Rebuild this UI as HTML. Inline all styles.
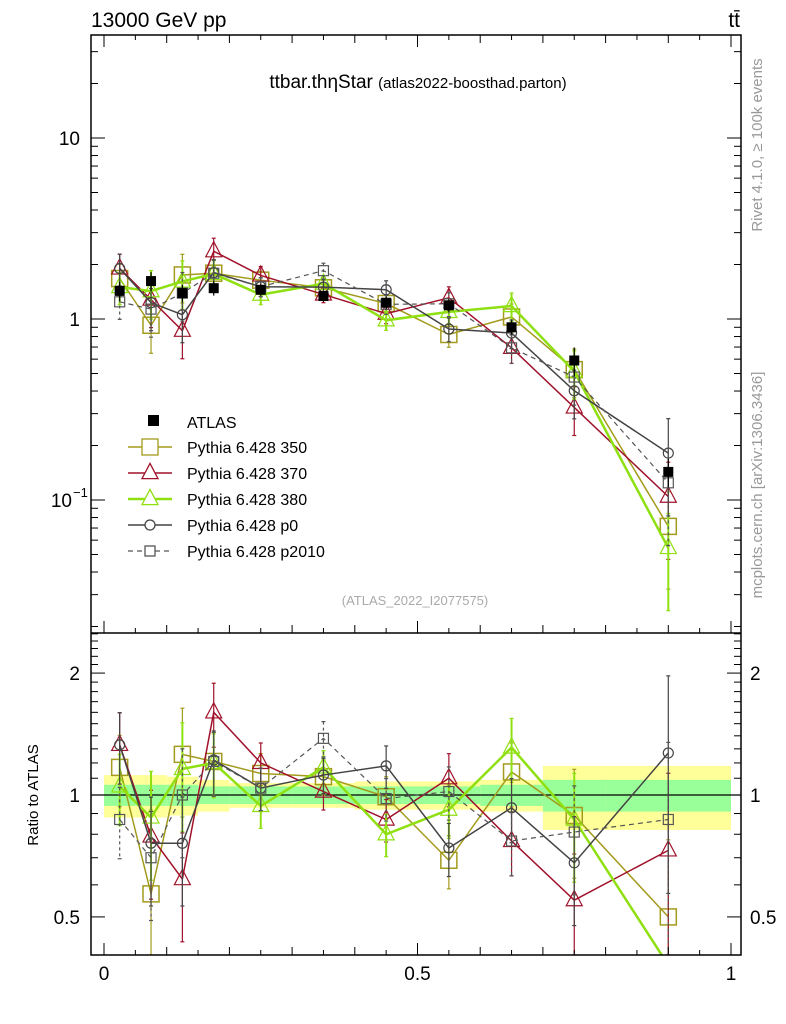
<!DOCTYPE html>
<html><head><meta charset="utf-8"><style>
html,body{margin:0;background:#fff;overflow:hidden;width:786px;height:1024px;}
svg{display:block;font-family:"Liberation Sans",sans-serif;}
</style></head><body>
<svg id="c" width="786" height="1024" viewBox="0 0 786 1024"></svg>
<script>
const edges=[0,0.05,0.1,0.15,0.2,0.3,0.4,0.5,0.6,0.7,0.8,1.0];
const atlas=[1.43,1.62,1.39,1.48,1.45,1.34,1.23,1.19,0.90,0.59,0.143];
const atlasStat=[0.06,0.06,0.06,0.05,0.05,0.05,0.05,0.05,0.06,0.09,0.09];
const atlasTot=[0.12,0.12,0.11,0.09,0.07,0.07,0.08,0.08,0.09,0.18,0.18];
const r350=[1.17,0.57,1.26,1.21,1.13,1.11,0.99,0.69,1.14,0.89,0.50];
const r370=[1.33,0.79,0.62,1.60,1.20,1.02,0.87,1.10,0.77,0.55,0.73];
const r380=[1.05,0.88,1.16,1.20,0.94,1.17,0.80,0.92,1.31,0.87,0.38];
const rp0=[1.33,0.76,0.76,1.22,1.04,1.12,1.18,0.74,0.93,0.68,1.27];
const rp2010=[0.87,0.70,1.00,1.21,1.04,1.38,0.98,1.02,0.77,0.81,0.87];
const relErr=[0.2,0.3,0.3,0.18,0.12,0.1,0.12,0.15,0.18,0.3,0.55];
const series=[
 {name:"Pythia 6.428 350",r:r350,col:"#a39b1d",m:"sq",w:1.5,dash:"",size:8},
 {name:"Pythia 6.428 370",r:r370,col:"#a0122a",m:"tri",w:1.5,dash:"",size:8},
 {name:"Pythia 6.428 380",r:r380,col:"#8fe010",m:"tri",w:2.5,dash:"",size:8},
 {name:"Pythia 6.428 p0",r:rp0,col:"#444",m:"circ",w:1.5,dash:"",size:5},
 {name:"Pythia 6.428 p2010",r:rp2010,col:"#555",m:"sq",w:1.2,dash:"5,4",size:5}];
const X0=91,X1=741,T=35,M=633,B=955;
const xs=v=>104+v*627;
const ym=v=>Math.min(M,Math.max(T,319-181*Math.log10(v)));
const yr=v=>Math.min(B,Math.max(M,795-405*Math.log10(v)));
const yrRaw=v=>795-405*Math.log10(v);
const NS="http://www.w3.org/2000/svg";
const svg=document.getElementById('c');
function el(t,a,p){const e=document.createElementNS(NS,t);for(const k in a)e.setAttribute(k,a[k]);(p||svg).appendChild(e);return e;}
function txt(s,x,y,a,p){const e=el('text',Object.assign({x:x,y:y},a),p);e.textContent=s;return e;}
const clipM=el('clipPath',{id:'cm'});el('rect',{x:X0,y:T,width:X1-X0,height:M-T},clipM);
const clipR=el('clipPath',{id:'cr'});el('rect',{x:X0,y:M,width:X1-X0,height:B-M},clipR);
const gb=el('g',{'clip-path':'url(#cr)'});

for(let i=0;i<atlas.length;i++){
 const a=xs(edges[i]),b=xs(edges[i+1]);
 const r1=el('rect',{x:a,y:yr(1+atlasTot[i]),width:b-a,height:yr(1-atlasTot[i])-yr(1+atlasTot[i]),fill:'#ffff99'},gb);
 
 const r2=el('rect',{x:a,y:yr(1+atlasStat[i]),width:b-a,height:yr(1-atlasStat[i])-yr(1+atlasStat[i]),fill:'#99ff99'},gb);
 
}
el('line',{x1:X0,x2:X1,y1:yr(1),y2:yr(1),stroke:'#000','stroke-width':1.2});
function marker(g,type,x,y,s,col,fill,w){
 if(type==='sq')return el('rect',{x:x-s,y:y-s,width:2*s,height:2*s,fill:fill,stroke:col,'stroke-width':w},g);
 if(type==='circ')return el('circle',{cx:x,cy:y,r:s,fill:fill,stroke:col,'stroke-width':w},g);
 return el('polygon',{points:`${x},${y-s*1.2} ${x-s},${y+s*0.7} ${x+s},${y+s*0.7}`,fill:fill,stroke:col,'stroke-width':w},g);
}
const cx=i=>xs((edges[i]+edges[i+1])/2);
series.forEach((s,k)=>{
 [['main','cm',i=>atlas[i]*s.r[i],ym,ym],['ratio','cr',i=>s.r[i],yr,yrRaw]].forEach(([pn,cl,val,yf,yline])=>{
  const g=el('g',{'clip-path':`url(#${cl})`});
  
  let pts=[];
  for(let i=0;i<s.r.length;i++){
   const x=cx(i),y=yline(val(i));
   if(y>B&&i>0){const xp=cx(i-1),yp=yline(val(i-1));const t=(B+5-yp)/(y-yp);pts.push((xp+t*(x-xp))+','+(B+5));}
   else pts.push(x+','+y);
  }
  el('polyline',{points:pts.join(' '),fill:'none',stroke:s.col,'stroke-width':s.w,'stroke-dasharray':s.dash},g);
  s.r.forEach((_,i)=>{
   const v=val(i),e=relErr[i];
   if(yline(v)>B)return;
   el('line',{x1:cx(i),x2:cx(i),y1:yf(v*(1+e)),y2:yf(v*(1-e)),stroke:s.col,'stroke-width':s.w>2?2:1.2,'stroke-dasharray':s.dash?'3,3':''},g);
   el('line',{x1:cx(i)-2,x2:cx(i)+2,y1:yf(v*(1+e)),y2:yf(v*(1+e)),stroke:s.col,'stroke-width':1.2},g);
   el('line',{x1:cx(i)-2,x2:cx(i)+2,y1:yf(v*(1-e)),y2:yf(v*(1-e)),stroke:s.col,'stroke-width':1.2},g);
   const mk=marker(g,s.m,cx(i),yf(v),s.size,s.col,'none',s.m==='sq'&&s.size>6?1.5:1.2);
   
  });
 });
});
const ga=el('g',{'clip-path':'url(#cm)'});

atlas.forEach((v,i)=>{
 el('line',{x1:cx(i),x2:cx(i),y1:ym(v*(1+atlasTot[i])),y2:ym(v*(1-atlasTot[i])),stroke:'#000','stroke-width':1.2},ga);
 const p=el('rect',{x:cx(i)-5,y:ym(v)-5,width:10,height:10,fill:'#000'},ga);
 
});
el('rect',{x:X0,y:T,width:X1-X0,height:B-T,fill:'none',stroke:'#000','stroke-width':1.5});
el('line',{x1:X0,x2:X1,y1:M,y2:M,stroke:'#000','stroke-width':1.5});
const gx=el('g',{stroke:'#000','stroke-width':1});

for(let k=0;k<=20;k++){const v=k*0.05,x=xs(v);const L=k%10===0?12:(k%2===0?8:5);
 [T,M,B].forEach((y0,j)=>{ if(j===0){el('line',{x1:x,x2:x,y1:T,y2:T+L},gx);} else {el('line',{x1:x,x2:x,y1:y0,y2:y0-L},gx);} });}
[['0',0],['0.5',0.5],['1',1]].forEach(([s,v])=>txt(s,xs(v),980,{'font-size':19,'text-anchor':'middle'}));
const gy=el('g',{stroke:'#000','stroke-width':1});

for(let d=-2;d<=1;d++)for(let m=1;m<=9;m++){const v=m*Math.pow(10,d),y=319-181*Math.log10(v);if(y<T||y>M)continue;const L=m===1?14:7;
 el('line',{x1:X0,x2:X0+L,y1:y,y2:y},gy);el('line',{x1:X1,x2:X1-L,y1:y,y2:y},gy);}
txt('10',80,145,{'font-size':19,'text-anchor':'end'});
txt('1',80,326,{'font-size':19,'text-anchor':'end'});
txt('10',72,507,{'font-size':19,'text-anchor':'end'});
txt('−1',73,497,{'font-size':13,'text-anchor':'start'});
const gr=el('g',{stroke:'#000','stroke-width':1});

for(let k=4;k<=25;k++){const v=k/10,y=yrRaw(v);if(y<M||y>B)continue;const L=(k===5||k===10||k===20)?14:7;
 el('line',{x1:X0,x2:X0+L,y1:y,y2:y},gr);el('line',{x1:X1,x2:X1-L,y1:y,y2:y},gr);}
[['2',2],['1',1],['0.5',0.5]].forEach(([s,v])=>{txt(s,80,yrRaw(v)+7,{'font-size':19,'text-anchor':'end'});txt(s,750,yrRaw(v)+7,{'font-size':19});});
txt('Ratio to ATLAS',38,795,{'font-size':15,'text-anchor':'middle',transform:'rotate(-90 38 795)'});
txt('13000 GeV pp',91,27,{'font-size':21});
txt('tt̄',740,27,{'font-size':21,'text-anchor':'end'});
const ti=txt('',418,88,{'font-size':19,'text-anchor':'middle'});
ti.innerHTML='ttbar.thηStar <tspan font-size="15">(atlas2022-boosthad.parton)</tspan>';
txt('(ATLAS_2022_I2077575)',415,605,{'font-size':13,fill:'#aaa','text-anchor':'middle'});
txt('Rivet 4.1.0, ≥ 100k events',762,145,{'font-size':15,fill:'#999','text-anchor':'middle',transform:'rotate(-90 762 145)'});
txt('mcplots.cern.ch [arXiv:1306.3436]',762,485,{'font-size':15,fill:'#999','text-anchor':'middle',transform:'rotate(-90 762 485)'});
const gl=el('g',{});
el('rect',{x:148,y:415,width:11,height:11,fill:'#000'},gl);txt('ATLAS',187,428,{'font-size':16},gl);
series.forEach((s,k)=>{const y=447+26*k;
 const e=el('g',{},gl);
 el('line',{x1:128,x2:172,y1:y,y2:y,stroke:s.col,'stroke-width':s.w,'stroke-dasharray':s.dash},e);
 marker(e,s.m,150,y,s.size,s.col,'#fff',1.3);
 txt(s.name,187,y+6,{'font-size':16},e);});
</script>
</body></html>
